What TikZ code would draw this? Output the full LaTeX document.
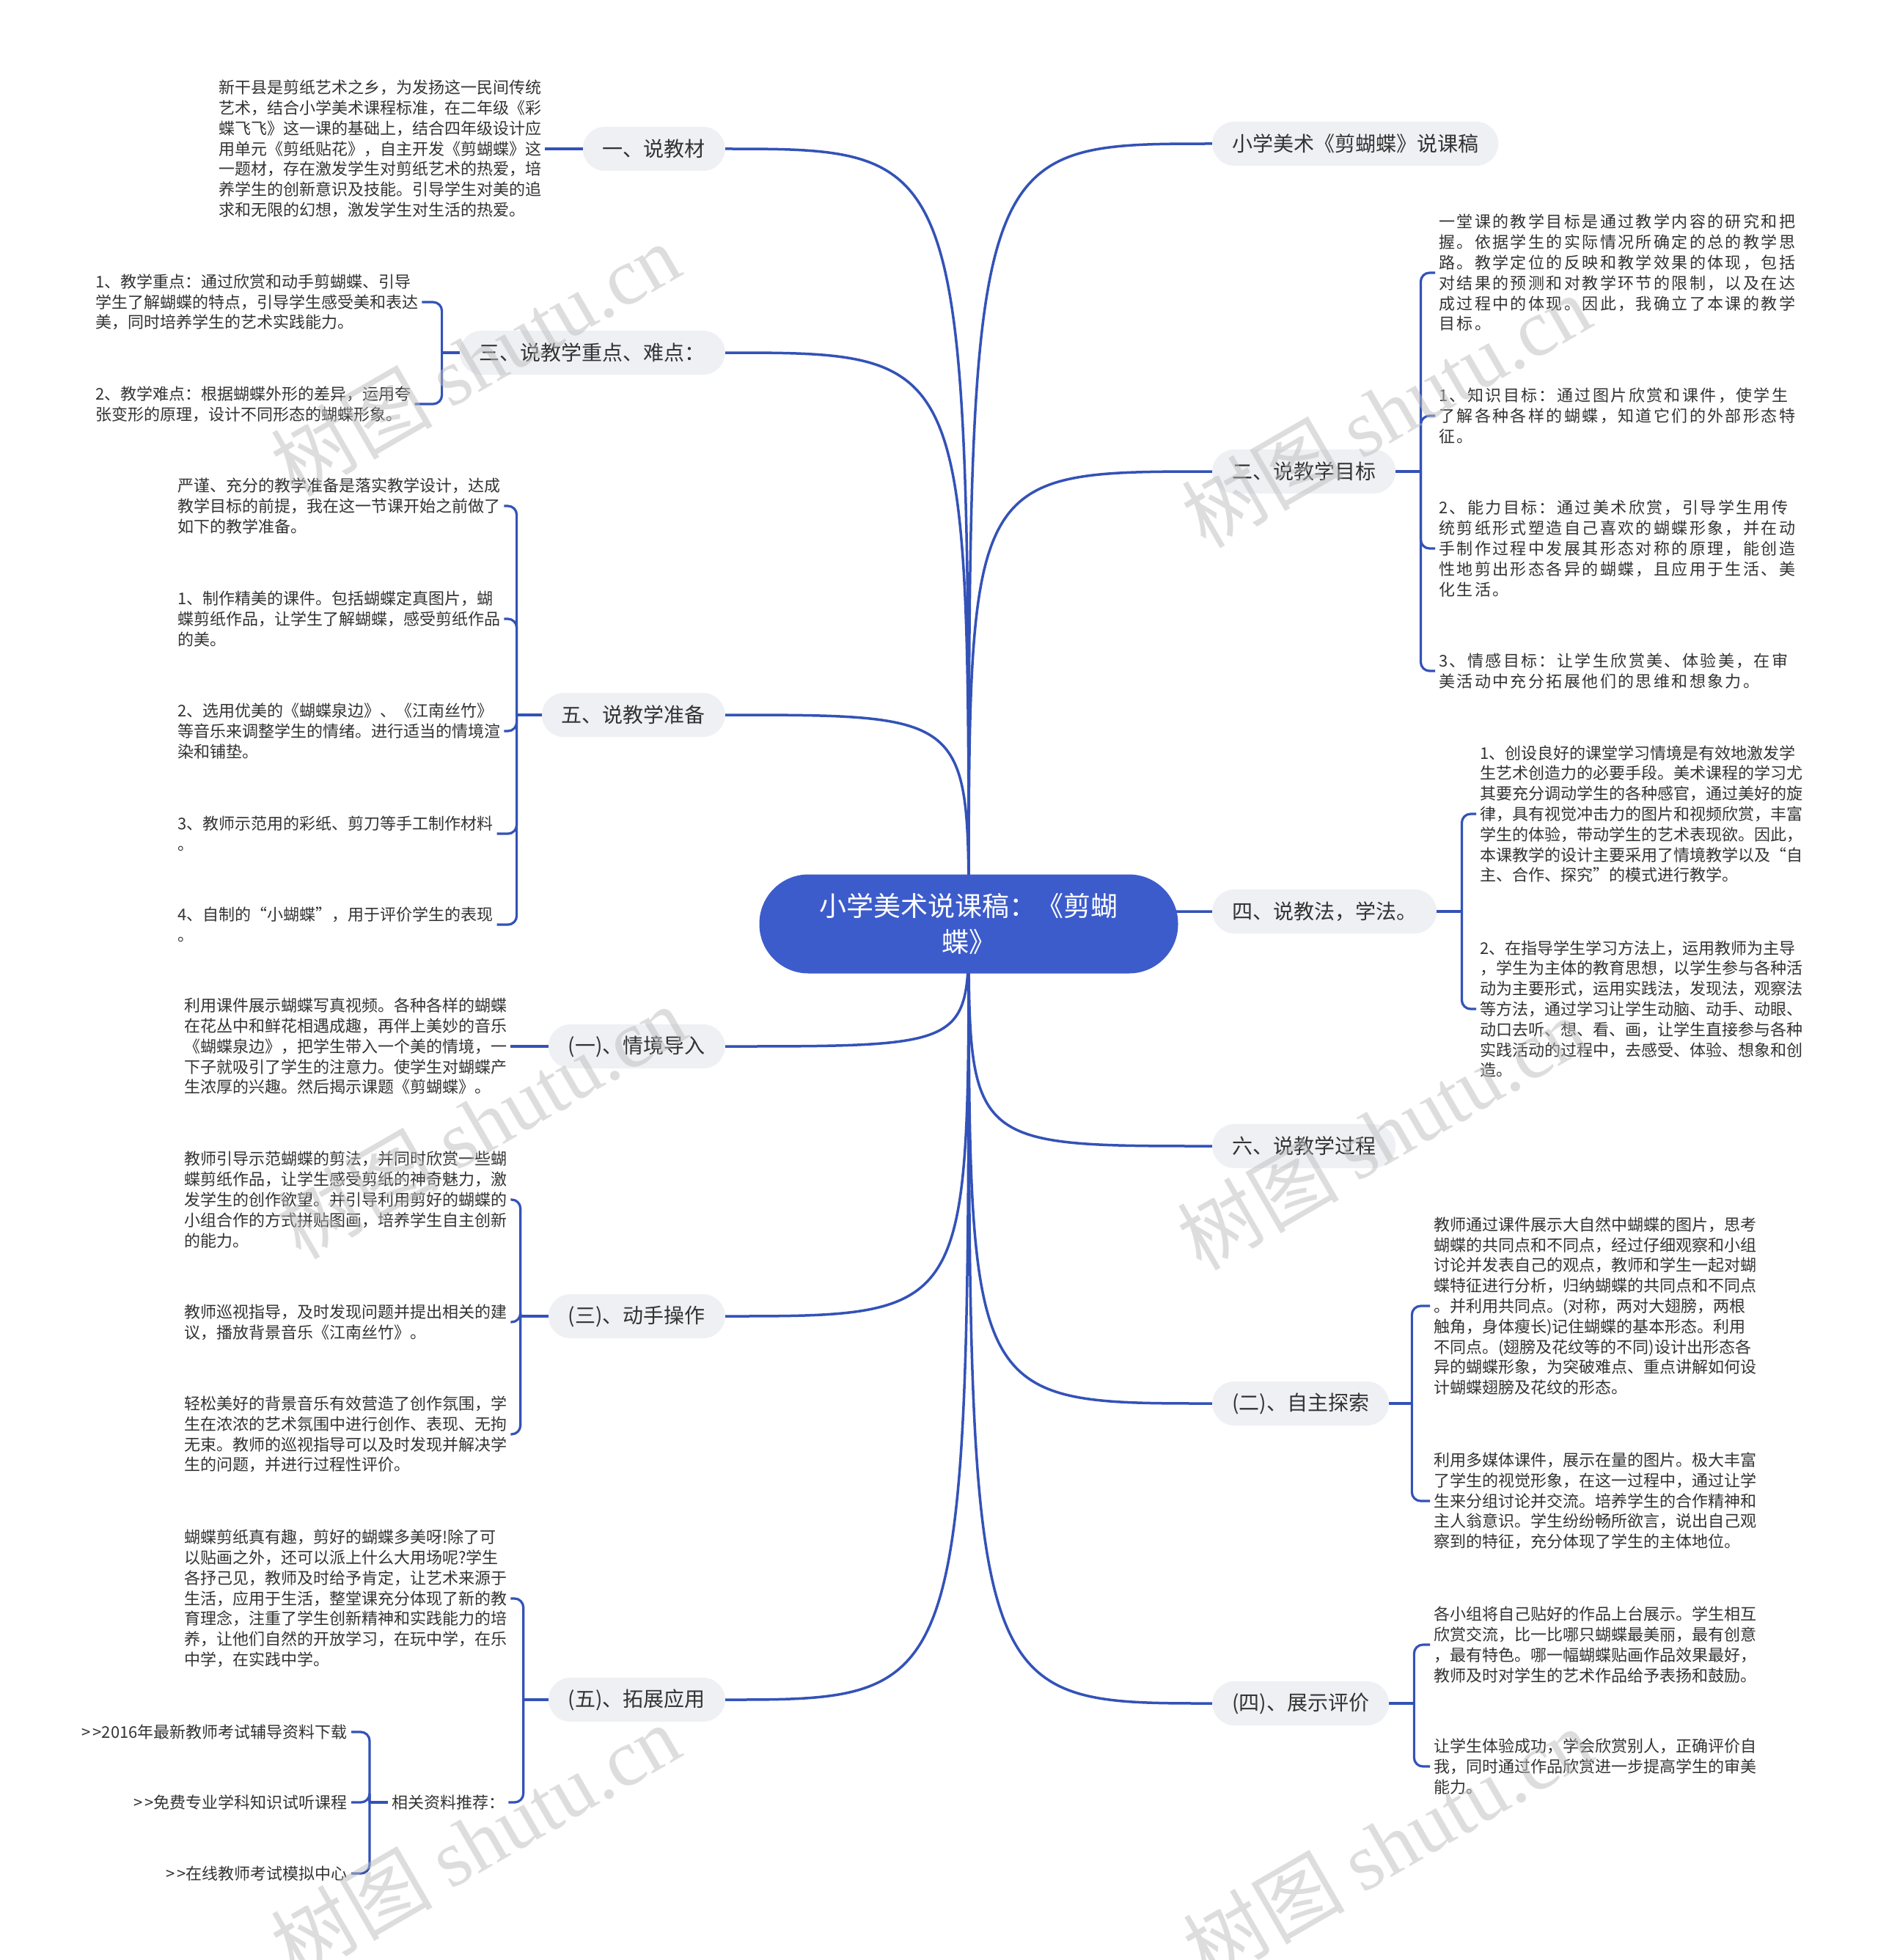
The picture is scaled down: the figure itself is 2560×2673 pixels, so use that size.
\documentclass[tikz,border=0pt]{standalone}
\usepackage{fontspec}
\setmainfont{Noto Sans CJK SC}
\newfontfamily\widecjk{Noto Sans CJK SC}[LetterSpace=11]
\newfontfamily\markserif{Liberation Serif}
\usetikzlibrary{backgrounds}
\definecolor{linkblue}{HTML}{3352B8}
\definecolor{rootblue}{HTML}{3D5CCB}
\definecolor{branchgray}{HTML}{EEF0F4}
\definecolor{inkgray}{HTML}{333333}
\definecolor{markgray}{HTML}{BDBDBD}
\tikzset{
  root/.style={fill=rootblue, text=white, rounded corners=67pt, minimum width=571pt,
    minimum height=135pt, align=center, font=\fontsize{37}{49}\selectfont},
  branch/.style={fill=branchgray, text=inkgray, rounded corners=30pt, minimum height=60pt,
    inner xsep=27pt, font=\fontsize{28}{34}\selectfont},
  leaf/.style={text=inkgray, align=left, inner xsep=5pt, inner ysep=0pt,
    font=\fontsize{22}{27.8}\selectfont},
  link/.style={draw=linkblue, line width=3.5pt},
  twig/.style={draw=linkblue, line width=3.2pt, rounded corners=12pt},
  watermark/.style={text=markgray, opacity=0.5, rotate=30, font=\fontsize{110}{110}\selectfont}
}
\begin{document}
\begin{tikzpicture}[x=1pt,y=-1pt]
\useasboundingbox (0,0) rectangle (2560,2673);
\node[root] (root) at (1321,1260) {小学美术说课稿：《剪蝴\\蝶》};

% left side
\node[branch,anchor=east] (jiaocai) at (989,203) {一、说教材};
\node[branch,anchor=east] (zhongdian) at (989,481) {三、说教学重点、难点：};
\node[branch,anchor=east] (zhunbei) at (989,975) {五、说教学准备};
\node[branch,anchor=east] (daoru) at (989,1427) {(一)、情境导入};
\node[branch,anchor=east] (caozuo) at (989,1795) {(三)、动手操作};
\node[branch,anchor=east] (yingyong) at (989,2318) {(五)、拓展应用};

% right side
\node[branch,anchor=west] (shuoke) at (1653,196) {小学美术《剪蝴蝶》说课稿};
\node[branch,anchor=west] (mubiao) at (1653,643) {二、说教学目标};
\node[branch,anchor=west] (jiaofa) at (1653,1243) {四、说教法，学法。};
\node[branch,anchor=west] (guocheng) at (1653,1563) {六、说教学过程};
\node[branch,anchor=west] (tansuo) at (1653,1914) {(二)、自主探索};
\node[branch,anchor=west] (pingjia) at (1653,2323) {(四)、展示评价};

\node[leaf,anchor=west] (jiaocaiA) at (293,203) {新干县是剪纸艺术之乡，为发扬这一民间传统\\艺术，结合小学美术课程标准，在二年级《彩\\蝶飞飞》这一课的基础上，结合四年级设计应\\用单元《剪纸贴花》，自主开发《剪蝴蝶》这\\一题材，存在激发学生对剪纸艺术的热爱，培\\养学生的创新意识及技能。引导学生对美的追\\求和无限的幻想，激发学生对生活的热爱。};

\node[leaf,anchor=west] (zhongdianA) at (125,412) {1、教学重点：通过欣赏和动手剪蝴蝶、引导\\学生了解蝴蝶的特点，引导学生感受美和表达\\美，同时培养学生的艺术实践能力。};
\node[leaf,anchor=west] (zhongdianB) at (125,551) {2、教学难点：根据蝴蝶外形的差异，运用夸\\张变形的原理，设计不同形态的蝴蝶形象。};

\node[leaf,anchor=west] (zhunbeiA) at (237,690) {严谨、充分的教学准备是落实教学设计，达成\\教学目标的前提，我在这一节课开始之前做了\\如下的教学准备。};
\node[leaf,anchor=west] (zhunbeiB) at (237,844) {1、制作精美的课件。包括蝴蝶定真图片，蝴\\蝶剪纸作品，让学生了解蝴蝶，感受剪纸作品\\的美。};
\node[leaf,anchor=west] (zhunbeiC) at (237,997) {2、选用优美的《蝴蝶泉边》、《江南丝竹》\\等音乐来调整学生的情绪。进行适当的情境渲\\染和铺垫。};
\node[leaf,anchor=west] (zhunbeiD) at (237,1137) {3、教师示范用的彩纸、剪刀等手工制作材料\\。};
\node[leaf,anchor=west] (zhunbeiE) at (237,1261) {4、自制的“小蝴蝶”，用于评价学生的表现\\。};

\node[leaf,anchor=west] (daoruA) at (246,1427) {利用课件展示蝴蝶写真视频。各种各样的蝴蝶\\在花丛中和鲜花相遇成趣，再伴上美妙的音乐\\《蝴蝶泉边》，把学生带入一个美的情境，一\\下子就吸引了学生的注意力。使学生对蝴蝶产\\生浓厚的兴趣。然后揭示课题《剪蝴蝶》。};

\node[leaf,anchor=west] (caozuoA) at (246,1636) {教师引导示范蝴蝶的剪法，并同时欣赏一些蝴\\蝶剪纸作品，让学生感受剪纸的神奇魅力，激\\发学生的创作欲望。并引导利用剪好的蝴蝶的\\小组合作的方式拼贴图画，培养学生自主创新\\的能力。};
\node[leaf,anchor=west] (caozuoB) at (246,1803) {教师巡视指导，及时发现问题并提出相关的建\\议，播放背景音乐《江南丝竹》。};
\node[leaf,anchor=west] (caozuoC) at (246,1956) {轻松美好的背景音乐有效营造了创作氛围，学\\生在浓浓的艺术氛围中进行创作、表现、无拘\\无束。教师的巡视指导可以及时发现并解决学\\生的问题，并进行过程性评价。};

\node[leaf,anchor=west] (yingyongA) at (246,2180) {蝴蝶剪纸真有趣，剪好的蝴蝶多美呀!除了可\\以贴画之外，还可以派上什么大用场呢?学生\\各抒己见，教师及时给予肯定，让艺术来源于\\生活，应用于生活，整堂课充分体现了新的教\\育理念，注重了学生创新精神和实践能力的培\\养，让他们自然的开放学习，在玩中学，在乐\\中学，在实践中学。};
\node[leaf,anchor=west] (tuijian) at (529,2458) {相关资料推荐：};
\node[leaf,anchor=east] (tuijianA) at (479,2362) {>\kern3pt>2016年最新教师考试辅导资料下载};
\node[leaf,anchor=east] (tuijianB) at (479,2458) {>\kern3pt>免费专业学科知识试听课程};
\node[leaf,anchor=east] (tuijianC) at (479,2555) {>\kern3pt>在线教师考试模拟中心};

\node[leaf,anchor=west,font=\fontsize{22}{27.8}\widecjk] (mubiaoA) at (1957,372) {一堂课的教学目标是通过教学内容的研究和把\\握。依据学生的实际情况所确定的总的教学思\\路。教学定位的反映和教学效果的体现，包括\\对结果的预测和对教学环节的限制，以及在达\\成过程中的体现。因此，我确立了本课的教学\\目标。};
\node[leaf,anchor=west,font=\fontsize{22}{27.8}\widecjk] (mubiaoB) at (1957,567) {1、知识目标：通过图片欣赏和课件，使学生\\了解各种各样的蝴蝶，知道它们的外部形态特\\征。};
\node[leaf,anchor=west,font=\fontsize{22}{27.8}\widecjk] (mubiaoC) at (1957,748) {2、能力目标：通过美术欣赏，引导学生用传\\统剪纸形式塑造自己喜欢的蝴蝶形象，并在动\\手制作过程中发展其形态对称的原理，能创造\\性地剪出形态各异的蝴蝶，且应用于生活、美\\化生活。};
\node[leaf,anchor=west,font=\fontsize{22}{27.8}\widecjk] (mubiaoD) at (1957,915) {3、情感目标：让学生欣赏美、体验美，在审\\美活动中充分拓展他们的思维和想象力。};

\node[leaf,anchor=west] (jiaofaA) at (2013,1110) {1、创设良好的课堂学习情境是有效地激发学\\生艺术创造力的必要手段。美术课程的学习尤\\其要充分调动学生的各种感官，通过美好的旋\\律，具有视觉冲击力的图片和视频欣赏，丰富\\学生的体验，带动学生的艺术表现欲。因此，\\本课教学的设计主要采用了情境教学以及“自\\主、合作、探究”的模式进行教学。};
\node[leaf,anchor=west] (jiaofaB) at (2013,1376) {2、在指导学生学习方法上，运用教师为主导\\，学生为主体的教育思想，以学生参与各种活\\动为主要形式，运用实践法，发现法，观察法\\等方法，通过学习让学生动脑、动手、动眼、\\动口去听、想、看、画，让学生直接参与各种\\实践活动的过程中，去感受、体验、想象和创\\造。};

\node[leaf,anchor=west] (tansuoA) at (1950,1781) {教师通过课件展示大自然中蝴蝶的图片，思考\\蝴蝶的共同点和不同点，经过仔细观察和小组\\讨论并发表自己的观点，教师和学生一起对蝴\\蝶特征进行分析，归纳蝴蝶的共同点和不同点\\。并利用共同点。(对称，两对大翅膀，两根\\触角，身体瘦长)记住蝴蝶的基本形态。利用\\不同点。(翅膀及花纹等的不同)设计出形态各\\异的蝴蝶形象，为突破难点、重点讲解如何设\\计蝴蝶翅膀及花纹的形态。};
\node[leaf,anchor=west] (tansuoB) at (1950,2047) {利用多媒体课件，展示在量的图片。极大丰富\\了学生的视觉形象，在这一过程中，通过让学\\生来分组讨论并交流。培养学生的合作精神和\\主人翁意识。学生纷纷畅所欲言，说出自己观\\察到的特征，充分体现了学生的主体地位。};

\node[leaf,anchor=west] (pingjiaA) at (1950,2243) {各小组将自己贴好的作品上台展示。学生相互\\欣赏交流，比一比哪只蝴蝶最美丽，最有创意\\，最有特色。哪一幅蝴蝶贴画作品效果最好，\\教师及时对学生的艺术作品给予表扬和鼓励。};
\node[leaf,anchor=west] (pingjiaB) at (1950,2409) {让学生体验成功，学会欣赏别人，正确评价自\\我，同时通过作品欣赏进一步提高学生的审美\\能力。};

% spines
\coordinate (zhongdianS) at ([xshift=-24pt]zhongdian.west);
\coordinate (zhunbeiS) at ([xshift=-34pt]zhunbei.west);
\coordinate (caozuoS) at ([xshift=-38pt]caozuo.west);
\coordinate (yingyongS) at ([xshift=-34pt]yingyong.west);
\coordinate (tuijianS) at ([xshift=-25pt]tuijian.west);
\coordinate (mubiaoS) at ([xshift=34pt]mubiao.east);
\coordinate (jiaofaS) at ([xshift=34pt]jiaofa.east);
\coordinate (tansuoS) at ([xshift=31pt]tansuo.east);
\coordinate (pingjiaS) at ([xshift=34pt]pingjia.east);

\draw[twig] (jiaocai.west) -- (jiaocaiA.east);
\draw[twig] (daoru.west) -- (daoruA.east);
\foreach \g/\ls in {zhongdian/{zhongdianA,zhongdianB},
    zhunbei/{zhunbeiA,zhunbeiB,zhunbeiC,zhunbeiD,zhunbeiE},
    caozuo/{caozuoA,caozuoB,caozuoC},
    yingyong/{yingyongA,tuijian},
    tuijian/{tuijianA,tuijianB,tuijianC}}{
  \draw[twig] (\g.west) -- (\g S);
  \foreach \l in \ls \draw[twig] (\g S) |- (\l.east);
}
\foreach \g/\ls in {mubiao/{mubiaoA,mubiaoB,mubiaoC,mubiaoD},
    jiaofa/{jiaofaA,jiaofaB},
    tansuo/{tansuoA,tansuoB},
    pingjia/{pingjiaA,pingjiaB}}{
  \draw[twig] (\g.east) -- (\g S);
  \foreach \l in \ls \draw[twig] (\g S) |- (\l.west);
}

\begin{scope}[on background layer]
  \fill[white] (0,0) rectangle (2560,2673);
  \foreach \b in {jiaocai,zhongdian,zhunbei,daoru,caozuo,yingyong}
    \draw[link] (root.center) .. controls (root.center |- \b.east) .. (\b.east);
  \foreach \b in {shuoke,mubiao,jiaofa,guocheng,tansuo,pingjia}
    \draw[link] (root.center) .. controls (root.center |- \b.west) .. (\b.west);
\end{scope}

\foreach \p in {(648,490),(1890,560),(656,1530),(1884,1545),(648,2510),(1892,2515)}
  \node[watermark] at \p {树图 {\markserif shutu.cn}};
\end{tikzpicture}
\end{document}
